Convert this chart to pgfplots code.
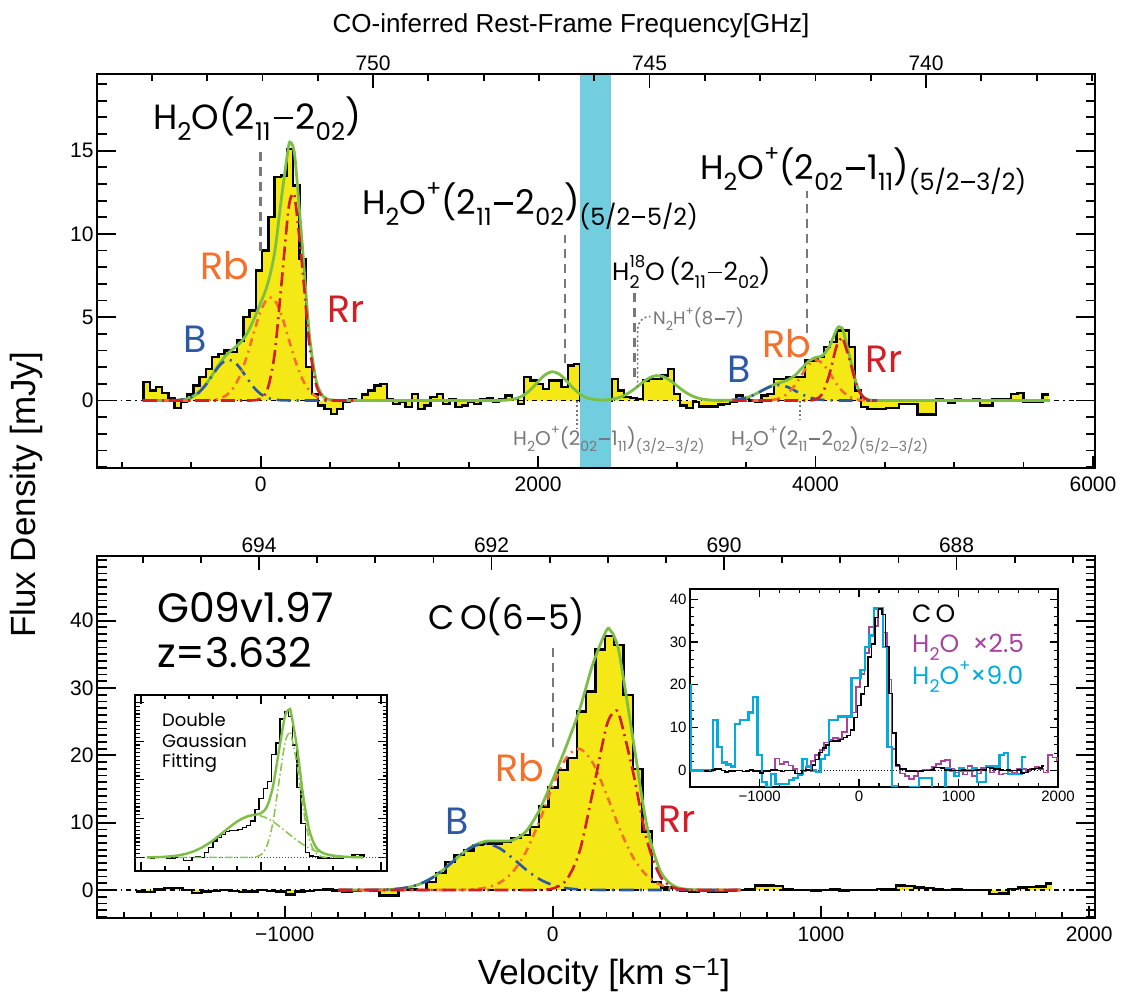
\documentclass[border=0pt]{standalone}
\usepackage{pgfplots}
\pgfplotsset{compat=1.18}
\usepackage{pgfplotstable}
\usepackage{fontspec}
\setmainfont{Liberation Sans}
\newfontfamily\pop{Poppins}
\usepackage{graphicx}

\definecolor{yfill}{RGB}{244,233,22}
\definecolor{cgreen}{RGB}{125,190,68}
\definecolor{lgreen}{RGB}{140,200,80}
\definecolor{cblue}{RGB}{44,88,168}
\definecolor{corange}{RGB}{244,112,44}
\definecolor{cred}{RGB}{212,30,38}
\definecolor{cband}{RGB}{114,206,222}
\definecolor{cgray}{RGB}{120,120,120}
\definecolor{cpurple}{RGB}{166,68,160}
\definecolor{ccyan}{RGB}{0,172,222}

\newcommand\fs[1]{\fontsize{#1}{#1}\selectfont}
\newcommand\sub[1]{\raisebox{-0.3em}{\scalebox{0.7}{#1}}}
\newcommand\sups[1]{\raisebox{0.55em}{\scalebox{0.66}{#1}}}
\newcommand\mn{\kern0.08em\rule[0.3em]{0.55em}{0.075em}\kern0.08em}

\pgfplotstableread{
x y
-845 0
-845 1.1
-800 0.6
-755 0.8
-710 0.45
-665 0.15
-620 -0.45
-575 -0.05
-530 0.35
-485 0.9
-440 1.4
-395 1.9
-350 2.6
-305 2.8
-260 3.0
-215 2.9
-170 3.6
-125 5.0
-80 5.4
-35 7.8
10 9.0
55 11.0
100 13.4
145 13.5
190 15.1
235 12.9
280 8.5
325 2.0
370 0.4
415 -0.3
460 -0.5
505 -0.8
550 -0.5
595 -0.1
640 0.05
685 0.0
730 0.35
775 0.6
820 0.9
865 1.0
910 0.1
955 -0.2
1000 -0.1
1045 -0.4
1090 0.4
1135 -0.5
1180 -0.3
1225 0.2
1270 0.4
1315 -0.2
1360 0.1
1405 -0.4
1450 -0.3
1495 -0.1
1540 -0.2
1585 0.1
1630 0.15
1675 -0.1
1720 0.1
1765 0.3
1810 0.1
1855 -0.2
1900 1.4
1945 1.2
1990 1.0
2035 0.7
2080 1.2
2125 1.2
2170 0.8
2215 2.1
2260 2.2
2305 0
2350 0
2395 0
2440 0
2485 0
2530 1.3
2575 0.6
2620 0.2
2665 0.15
2710 0.1
2755 1.2
2800 1.3
2845 1.3
2890 1.5
2935 1.9
2980 0.4
3025 -0.3
3070 -0.45
3115 -0.1
3160 -0.35
3205 -0.35
3250 -0.35
3295 -0.25
3340 -0.2
3385 -0.1
3430 0.3
3475 0.1
3520 0.0
3565 -0.05
3610 0.3
3655 0.4
3700 1.3
3745 1.3
3790 1.4
3835 1.4
3880 1.4
3925 2.4
3970 2.4
4015 2.6
4060 3.2
4105 3.5
4150 4.2
4195 4.2
4240 3.2
4285 0.6
4330 -0.4
4375 -0.5
4420 -0.5
4465 -0.5
4510 -0.45
4555 -0.45
4600 -0.2
4645 -0.2
4690 -0.2
4735 -0.85
4780 -0.85
4825 -0.85
4870 0.05
4915 0.0
4960 -0.15
5005 0.05
5050 0.0
5095 0.0
5140 0.05
5185 -0.3
5230 -0.3
5275 0.1
5320 0.1
5365 0.1
5410 0.4
5455 0.45
5500 -0.1
5545 -0.1
5590 -0.1
5635 0.35
5680 0.35
}\topspec

\pgfplotstableread{
x y
-1556 -0.2
-1521 -0.25
-1486 0.1
-1451 0.3
-1416 0.3
-1381 0.0
-1346 -0.4
-1311 -0.2
-1276 -0.15
-1241 0.0
-1206 -0.1
-1171 -0.3
-1136 -0.2
-1101 0.05
-1066 -0.15
-1031 -0.2
-996 -0.65
-961 -0.2
-926 -0.15
-891 0.05
-856 0.1
-821 -0.05
-786 -0.3
-751 -0.1
-716 0.0
-681 -0.05
-646 -0.8
-611 -0.8
-576 0.0
-541 0.1
-506 0.0
-471 1.2
-436 2.5
-401 4.2
-366 5.2
-331 5.9
-296 6.7
-261 6.9
-226 6.9
-191 7.2
-156 7.7
-121 8.2
-86 9.4
-51 12.4
-16 15.2
19 17.8
54 19.6
89 26.5
124 29.5
159 35.7
194 37.7
229 36.4
264 29.0
299 18.0
334 8.7
369 1.2
404 0.35
439 0.3
474 -0.15
509 -0.2
544 -0.15
579 -0.25
614 -0.2
649 -0.1
684 0.0
719 0.1
754 0.65
789 0.7
824 0.6
859 0.1
894 0.05
929 0.0
964 -0.05
999 0.0
1034 0.1
1069 -0.05
1104 0.0
1139 0.0
1174 0.05
1209 0.15
1244 0.1
1279 0.7
1314 0.6
1349 0.35
1384 0.3
1419 0.1
1454 0.0
1489 0.1
1524 0.0
1559 0.0
1594 0.05
1629 -0.6
1664 -0.5
1699 0.2
1734 0.35
1769 0.45
1804 0.5
1839 1.0
1862 1.0
}\cospec

\tikzset{
  markdash/.style={cgray, line width=2.4pt, dash pattern=on 9pt off 6pt},
  markdot/.style={cgray, line width=2pt, dash pattern=on 2pt off 2.5pt},
}
\pgfplotsset{
  base/.style={scale only axis, anchor=south west,
    axis line style={line width=2.4pt}, tick style={line width=1.8pt, black},
    tick align=inside, clip=true,
    /pgf/number format/assume math mode=true,
    /pgf/number format/1000 sep={},
    tick label style={font=\fs{21}}},
  bstyle/.style={cblue, line width=2.6pt, dash pattern=on 14pt off 6pt on 2pt off 6pt, smooth},
  ostyle/.style={corange, line width=2.6pt, dash pattern=on 8pt off 5pt on 2pt off 5pt, smooth},
  rstyle/.style={cred, line width=2.6pt, dash pattern=on 14pt off 5pt on 2pt off 5pt, smooth},
  gstyle/.style={cgreen, line width=2.8pt, smooth},
}

\begin{document}
\begin{tikzpicture}
\useasboundingbox (0,0) rectangle (1123pt,992pt);

% ================= TOP PANEL =================
\begin{axis}[base, at={(97pt,524pt)}, width=998pt, height=394pt,
  xmin=-1180, xmax=6015, ymin=-4.05, ymax=19.6,
  xtick={0,2000,4000,6000}, minor xtick={-1000,-500,...,6000},
  xtick pos=left, ytick=\empty, xticklabel style={yshift=-5pt},
  major tick length=12pt, minor tick length=6pt]
  \addplot[draw=none, fill=yfill, const plot] table {\topspec} \closedcycle;
  \addplot[black, line width=1.2pt, dash pattern=on 5pt off 4pt on 1.5pt off 4pt] coordinates {(-1180,0) (6015,0)};
  \addplot[black, line width=2.4pt, const plot] table {\topspec};
  \fill[cband] (axis cs:2300,-4.05) rectangle (axis cs:2525,19.6);
  \addplot[gstyle] coordinates {(-850,0) (-800,0) (-750,0.0002) (-700,0.0011) (-650,0.0054) (-600,0.021) (-550,0.070) (-500,0.195) (-450,0.458) (-400,0.907) (-350,1.520) (-300,2.175) (-250,2.716) (-200,3.092) (-150,3.443) (-100,3.999) (-50,4.857) (0,5.866) (50,6.984) (100,8.853) (150,12.167) (200,15.210) (215,15.48) (230,15.308) (250,14.345) (300,9.317) (350,4.057) (400,1.197) (450,0.2545) (500,0.045) (550,0.0082) (600,0.0015) (650,0) (800,0) (1000,0) (1200,0) (1400,0) (1600,0) (1650,0) (1700,0.003) (1750,0.0135) (1800,0.048) (1850,0.142) (1900,0.343) (1950,0.687) (2000,1.132) (2050,1.540) (2100,1.729) (2150,1.600) (2200,1.223) (2250,0.770) (2300,0.401) (2350,0.173) (2400,0.065) (2450,0.032) (2500,0.045) (2550,0.104) (2600,0.228) (2650,0.437) (2700,0.730) (2750,1.063) (2800,1.350) (2850,1.494) (2900,1.442) (2950,1.213) (3000,0.890) (3050,0.569) (3100,0.317) (3150,0.154) (3200,0.065) (3250,0.025) (3300,0.010) (3350,0.011) (3400,0.027) (3450,0.072) (3500,0.164) (3550,0.319) (3600,0.531) (3650,0.759) (3700,0.950) (3750,1.086) (3800,1.234) (3850,1.500) (3900,1.922) (3950,2.355) (4000,2.585) (4050,2.692) (4100,3.250) (4150,4.240) (4170,4.43) (4186,4.378) (4200,4.170) (4250,2.513) (4300,0.873) (4350,0.174) (4400,0.021) (4450,0.002) (4500,0) (4700,0) (5000,0) (5300,0) (5690,0)};
  \addplot[bstyle] coordinates {(-850,0) (-800,0) (-750,0.0002) (-700,0.0011) (-650,0.0054) (-600,0.0211) (-550,0.070) (-500,0.195) (-450,0.456) (-400,0.898) (-350,1.486) (-300,2.067) (-250,2.416) (-200,2.375) (-150,1.962) (-100,1.362) (-50,0.796) (0,0.390) (50,0.161) (100,0.056) (150,0.016) (200,0.004) (250,0.001) (300,0) (350,0) (400,0) (500,0) (600,0) (680,0)};
  \addplot[ostyle] coordinates {(-850,0) (-750,0) (-650,0) (-550,0) (-500,0) (-450,0.002) (-400,0.009) (-350,0.034) (-300,0.108) (-250,0.300) (-200,0.717) (-150,1.481) (-100,2.637) (-50,4.049) (0,5.363) (50,6.127) (100,6.037) (150,5.131) (200,3.760) (250,2.377) (300,1.296) (350,0.610) (400,0.247) (450,0.0865) (500,0.026) (550,0.0068) (600,0.0015) (650,0) (680,0)};
  \addplot[rstyle] coordinates {(-850,0) (-750,0) (-650,0) (-550,0) (-450,0) (-350,0) (-250,0) (-150,0) (-100,0.0008) (-50,0.0117) (0,0.1125) (50,0.696) (100,2.760) (150,7.020) (200,11.446) (230,12.4) (250,11.967) (300,8.021) (350,3.447) (400,0.950) (450,0.168) (500,0.019) (550,0.0014) (600,0) (680,0)};
  \addplot[bstyle] coordinates {(3400,0.027) (3450,0.072) (3500,0.164) (3550,0.318) (3600,0.528) (3650,0.746) (3700,0.898) (3750,0.921) (3800,0.806) (3850,0.600) (3900,0.381) (3950,0.206) (4000,0.095) (4050,0.037) (4100,0.0125) (4150,0.0036) (4200,0.001) (4250,0) (4350,0) (4450,0)};
  \addplot[ostyle] coordinates {(3400,0) (3450,0) (3500,0) (3550,0.0005) (3600,0.0028) (3650,0.0133) (3700,0.052) (3750,0.165) (3800,0.428) (3850,0.900) (3900,1.541) (3950,2.144) (4000,2.427) (4050,2.235) (4100,1.674) (4150,1.019) (4200,0.505) (4250,0.203) (4300,0.067) (4350,0.018) (4400,0.004) (4450,0)};
  \addplot[rstyle] coordinates {(3400,0) (3500,0) (3600,0) (3700,0) (3800,0) (3850,0) (3900,0.0002) (3950,0.005) (4000,0.0625) (4050,0.42) (4100,1.563) (4150,3.217) (4186,3.75) (4200,3.664) (4250,2.310) (4300,0.806) (4350,0.156) (4400,0.017) (4450,0.001)};
  \draw[markdash] (axis cs:0,9.0) -- (axis cs:0,15.0);
  \draw[markdash] (axis cs:2192,2.25) -- (axis cs:2192,9.93);
  \draw[markdash] (axis cs:2696,1.4) -- (axis cs:2696,6.5);
  \draw[markdash] (axis cs:3937,4.05) -- (axis cs:3937,12.6);
  \draw[markdot] (axis cs:2278,0) -- (axis cs:2278,-1.65);
  \draw[markdot] (axis cs:3886,0) -- (axis cs:3886,-1.17);
  \draw[cgray, line width=1.6pt, dash pattern=on 2pt off 2.5pt] (axis cs:2718,0.8) -- (axis cs:2718,4.3) to[out=90,in=180] (axis cs:2810,5.05);
\end{axis}
\begin{axis}[base, at={(97pt,524pt)}, width=998pt, height=394pt,
  xmin=-1180, xmax=6015, ymin=-4.05, ymax=19.6, hide x axis,
  ytick={0,5,10,15}, minor ytick={-4,...,19}, ytick pos=both, yticklabel pos=left,
  major tick length=19pt, minor tick length=9.5pt]
\end{axis}
\begin{axis}[base, at={(97pt,524pt)}, width=998pt, height=394pt,
  x dir=reverse, xmin=736.944, xmax=754.993, ymin=0, ymax=1, hide y axis,
  xtick={740,745,750}, minor xtick={737,...,754}, xtick pos=right, xticklabel pos=right,
  major tick length=14pt, minor tick length=7pt]
\end{axis}

% ================= BOTTOM PANEL =================
\begin{axis}[base, at={(97pt,74pt)}, width=998pt, height=362pt,
  xmin=-1700, xmax=2022, ymin=-4.15, ymax=49.6,
  xtick={-1000,0,1000,2000}, xticklabels={−1000,0,1000,2000},
  minor xtick={-1700,-1600,...,2000}, xtick pos=left, ytick=\empty, xticklabel style={yshift=-5pt},
  major tick length=12pt, minor tick length=6pt]
  \addplot[draw=none, fill=yfill, const plot] table {\cospec} \closedcycle;
  \addplot[black, line width=1.2pt, dash pattern=on 5pt off 4pt on 1.5pt off 4pt] coordinates {(-1700,0) (2022,0)};
  \addplot[black, line width=2.4pt, const plot] table {\cospec};
  \addplot[gstyle] coordinates {(-800,0) (-750,0.001) (-700,0.007) (-650,0.030) (-600,0.108) (-550,0.329) (-500,0.844) (-450,1.818) (-400,3.295) (-350,5.032) (-300,6.507) (-250,7.241) (-200,7.280) (-150,7.398) (-100,8.715) (-50,11.87) (0,16.415) (50,21.35) (100,26.83) (150,33.64) (200,38.555) (215,38.53) (231,37.45) (250,34.68) (300,22.17) (350,9.69) (400,2.906) (450,0.631) (500,0.112) (550,0.018) (600,0.003) (650,0) (700,0)};
  \addplot[bstyle] coordinates {(-800,0) (-750,0.001) (-700,0.0069) (-650,0.030) (-600,0.108) (-550,0.329) (-500,0.844) (-450,1.818) (-400,3.291) (-350,5.010) (-300,6.411) (-250,6.896) (-200,6.236) (-150,4.740) (-100,3.028) (-50,1.626) (0,0.734) (50,0.279) (100,0.089) (150,0.024) (200,0.005) (250,0.001) (300,0) (400,0) (500,0) (600,0) (700,0)};
  \addplot[ostyle] coordinates {(-800,0) (-700,0) (-600,0) (-500,0) (-450,0) (-400,0.0044) (-350,0.022) (-300,0.096) (-250,0.345) (-200,1.044) (-150,2.658) (-100,5.685) (-50,10.22) (0,15.45) (50,19.63) (100,20.97) (150,18.83) (200,14.22) (250,9.02) (300,4.81) (350,2.157) (400,0.813) (450,0.258) (500,0.069) (550,0.015) (600,0.003) (650,0) (700,0)};
  \addplot[rstyle] coordinates {(-800,0) (-700,0) (-600,0) (-500,0) (-400,0) (-300,0) (-200,0) (-150,0) (-100,0.002) (-50,0.024) (0,0.231) (50,1.441) (100,5.767) (150,14.79) (200,24.33) (231,26.5) (250,25.66) (300,17.36) (350,7.53) (400,2.093) (450,0.373) (500,0.043) (550,0.003) (600,0) (700,0)};
  \draw[markdash] (axis cs:0,21.2) -- (axis cs:0,36.1);
\end{axis}
\begin{axis}[base, at={(97pt,74pt)}, width=998pt, height=362pt,
  xmin=-1700, xmax=2022, ymin=-4.15, ymax=49.6, hide x axis,
  ytick={0,10,20,30,40}, minor ytick={-4,...,49}, ytick pos=both, yticklabel pos=left,
  major tick length=19pt, minor tick length=9.5pt]
\end{axis}
\begin{axis}[base, at={(97pt,74pt)}, width=998pt, height=362pt,
  x dir=reverse, xmin=686.809, xmax=695.394, ymin=0, ymax=1, hide y axis,
  xtick={688,690,692,694}, minor xtick={687,687.5,...,695}, xtick pos=right, xticklabel pos=right,
  major tick length=14pt, minor tick length=7pt]
\end{axis}

% ================= INSET 1 =================
\begin{axis}[base, at={(135pt,121pt)}, width=252pt, height=176pt,
  xmin=-1050, xmax=1050, ymin=-3.5, ymax=41.9,
  xtick={-1000,0,1000}, minor x tick num=4, ytick={0,10,20,30,40}, minor y tick num=9,
  xticklabels={,,}, yticklabels={,,,,},
  major tick length=9pt, minor tick length=4.5pt,
  axis line style={line width=2pt}, tick style={line width=1.2pt},
  axis background/.style={fill=white}]
  \addplot[black!70, dotted, line width=1pt] coordinates {(-1050,0) (1050,0)};
  \addplot[black, line width=1.4pt, const plot, restrict x to domain=-930:860] table {\cospec};
  \addplot[lgreen, line width=1.6pt, dash pattern=on 8pt off 3pt on 1.5pt off 3pt, smooth] coordinates {(-950,0.027) (-900,0.052) (-850,0.096) (-800,0.170) (-750,0.291) (-700,0.479) (-650,0.761) (-600,1.163) (-550,1.716) (-500,2.437) (-450,3.339) (-400,4.405) (-350,5.601) (-300,6.865) (-250,8.108) (-200,9.229) (-150,10.12) (-100,10.70) (-50,10.9) (0,10.70) (50,10.12) (100,9.229) (150,8.108) (200,6.865) (250,5.601) (300,4.405) (350,3.339) (400,2.437) (450,1.716) (500,1.163) (550,0.761) (600,0.479) (650,0.291) (700,0.170) (750,0.096) (800,0.052) (850,0.027)};
  \addplot[lgreen, line width=1.6pt, dash pattern=on 8pt off 3pt on 1.5pt off 3pt, smooth] coordinates {(-950,0) (-800,0) (-650,0) (-500,0) (-350,0) (-200,0) (-100,0.014) (-50,0.117) (0,0.705) (50,3.014) (100,9.122) (150,19.53) (200,29.58) (235,32.2) (250,31.70) (300,24.04) (350,12.89) (400,4.894) (450,1.314) (500,0.250) (550,0.033) (600,0.003) (700,0) (850,0)};
  \addplot[cgreen, line width=2.4pt, smooth] coordinates {(-950,0.027) (-900,0.052) (-850,0.096) (-800,0.170) (-750,0.291) (-700,0.479) (-650,0.761) (-600,1.163) (-550,1.716) (-500,2.437) (-450,3.339) (-400,4.405) (-350,5.601) (-300,6.865) (-250,8.108) (-200,9.229) (-150,10.12) (-100,10.714) (-50,11.017) (0,11.405) (50,13.134) (100,18.351) (150,27.638) (200,36.445) (235,38.18) (250,37.30) (300,28.445) (350,16.229) (400,7.331) (450,3.030) (500,1.413) (550,0.794) (600,0.482) (650,0.291) (700,0.170) (750,0.096) (800,0.052) (850,0.027)};
\end{axis}

% ================= INSET 2 =================
\begin{axis}[base, at={(690pt,205pt)}, width=368pt, height=198pt,
  xmin=-1700, xmax=2000, ymin=-3.9, ymax=42.4,
  xtick={-1000,0,1000,2000}, xticklabels={−1000,0,1000,2000}, minor x tick num=4,
  ytick={0,10,20,30,40}, minor y tick num=4,
  major tick length=8pt, minor tick length=4pt,
  axis line style={line width=2pt}, tick style={line width=1.2pt},
  tick label style={font=\fs{15}},
  axis background/.style={fill=white}]
  \addplot[black, dotted, line width=1pt] coordinates {(-900,0) (1900,0)};
  \addplot[cpurple, line width=1.8pt, const plot] table[x=x, y expr=\thisrow{y}*2.5] {\topspec};
  \addplot[ccyan, line width=2.4pt, const plot] table[x expr=\thisrow{x}-4000, y expr=\thisrow{y}*9] {\topspec};
  \addplot[black, line width=1.5pt, const plot] table {\cospec};
\end{axis}

% ================= TEXT =================
\node[anchor=center] at (571pt,966pt) {\fs{26}CO-inferred Rest-Frame Frequency[GHz]};
\node[anchor=center] at (604pt,17pt) {\fs{35}Velocity [km s\textsuperscript{−1}]};
\node[anchor=center, rotate=90] at (26pt,497pt) {\fs{35}Flux Density [mJy]};

\begin{scope}[every node/.style={anchor=base west, inner sep=0pt}]
\node at (153pt,862pt) {\pop\fs{35}H\sub{2}O(2\sub{11}\mn 2\sub{02})};
\node[text=corange] at (200pt,712pt) {\pop\fs{38}Rb};
\node[text=cred] at (327pt,669pt) {\pop\fs{38}Rr};
\node[text=cblue] at (183pt,639pt) {\pop\fs{38}B};
\node at (362pt,777pt) {\pop\fs{34}H\sub{2}O\sups{+}(2\sub{11}\mn 2\sub{02})\sub{(5/2\mn 5/2)}};
\node at (612pt,711pt) {\pop\fs{25}H\rlap{\sub{2}}\sups{18}O\,(2\sub{11}\mn 2\sub{02})};
\node[text=cgray] at (653pt,667pt) {\pop\fs{18}N\sub{2}H\sups{+}(8\mn 7)};
\node at (700pt,812pt) {\pop\fs{34}H\sub{2}O\sups{+}(2\sub{02}\mn 1\sub{11})\sub{(5/2\mn 3/2)}};
\node[text=cblue] at (727pt,609pt) {\pop\fs{38}B};
\node[text=corange] at (762pt,634pt) {\pop\fs{38}Rb};
\node[text=cred] at (865pt,619pt) {\pop\fs{38}Rr};
\node[text=cgray] at (513pt,546pt) {\pop\fs{20}H\sub{2}O\sups{+}(2\sub{02}\mn 1\sub{11})\sub{(3/2\mn 3/2)}};
\node[text=cgray] at (731pt,546pt) {\pop\fs{20}H\sub{2}O\sups{+}(2\sub{11}\mn 2\sub{02})\sub{(5/2\mn 3/2)}};

\node at (157pt,369pt) {\pop\fs{41}G09v1.97};
\node at (157pt,324pt) {\pop\fs{41}z=3.632};
\node at (428pt,362pt) {\pop\fs{34}C\,O(6\mn 5)};
\node[text=corange] at (495pt,210pt) {\pop\fs{38}Rb};
\node[text=cblue] at (445pt,157pt) {\pop\fs{38}B};
\node[text=cred] at (658pt,159pt) {\pop\fs{38}Rr};
\node at (162pt,265pt) {\pop\fs{18}Double};
\node at (162pt,244pt) {\pop\fs{18}Gaussian};
\node at (162pt,224pt) {\pop\fs{18}Fitting};
\node at (912pt,369pt) {\pop\fs{25}C\,O};
\node[text=cpurple] at (912pt,339pt) {\pop\fs{25}H\sub{2}O\ \ ×2.5};
\node[text=ccyan] at (912pt,307pt) {\pop\fs{25}H\sub{2}O\sups{+}×9.0};
\end{scope}
\end{tikzpicture}
\end{document}
